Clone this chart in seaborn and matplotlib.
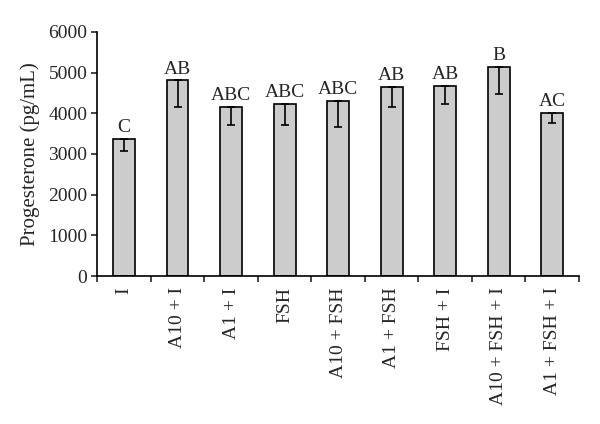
import seaborn as sns
import matplotlib.pyplot as plt
import pandas as pd
import numpy as np

groups = ['I', 'A10 + I', 'A1 + I', 'FSH', 'A10 + FSH', 'A1 + FSH',
          'FSH + I', 'A10 + FSH + I', 'A1 + FSH + I']
means = [3370, 4810, 4160, 4230, 4310, 4650, 4670, 5140, 4010]
err_low = [300, 650, 440, 520, 650, 500, 450, 680, 260]
letters = ['C', 'AB', 'ABC', 'ABC', 'ABC', 'AB', 'AB', 'B', 'AC']

df = pd.DataFrame({'group': groups, 'progesterone': means})

sns.set_style("white")
plt.rcParams['font.family'] = ['Liberation Serif', 'DejaVu Serif']

fig = plt.figure(figsize=(6, 4.24), dpi=100)
ax = fig.add_axes([0.162, 0.349, 0.803, 0.576])

sns.barplot(data=df, x='group', y='progesterone', color='#cccccc',
            edgecolor='black', linewidth=1.2, width=0.41, errorbar=None,
            saturation=1, ax=ax)

x = np.arange(len(groups))
ax.errorbar(x, means, yerr=[err_low, [0] * len(groups)], fmt='none',
            ecolor='black', elinewidth=1.2, capsize=3, capthick=1.2)

for xi, m, lab in zip(x, means, letters):
    ax.text(xi, m + 60, lab, ha='center', va='bottom', fontsize=14)

ax.set_xlim(-0.5, len(groups) - 0.5)
ax.set_ylim(0, 6000)
ax.set_yticks(range(0, 6001, 1000))
ax.set_ylabel('Progesterone (pg/mL)', fontsize=15, labelpad=6)
ax.set_xlabel('')

ax.set_xticks(x)
ax.set_xticklabels(groups, rotation=90, fontsize=14)
ax.set_xticks(np.arange(-0.5, len(groups)), minor=True)
ax.tick_params(axis='x', which='major', length=0, pad=8)
ax.tick_params(axis='x', which='minor', length=4, width=1.2, direction='out',
               bottom=True)
ax.tick_params(axis='y', length=4, width=1.2, direction='out', left=True,
               labelsize=14, pad=3)

for side in ['top', 'right']:
    ax.spines[side].set_visible(False)
for side in ['left', 'bottom']:
    ax.spines[side].set_color('black')
    ax.spines[side].set_linewidth(1.2)

fig.savefig('out.png', dpi=100)
